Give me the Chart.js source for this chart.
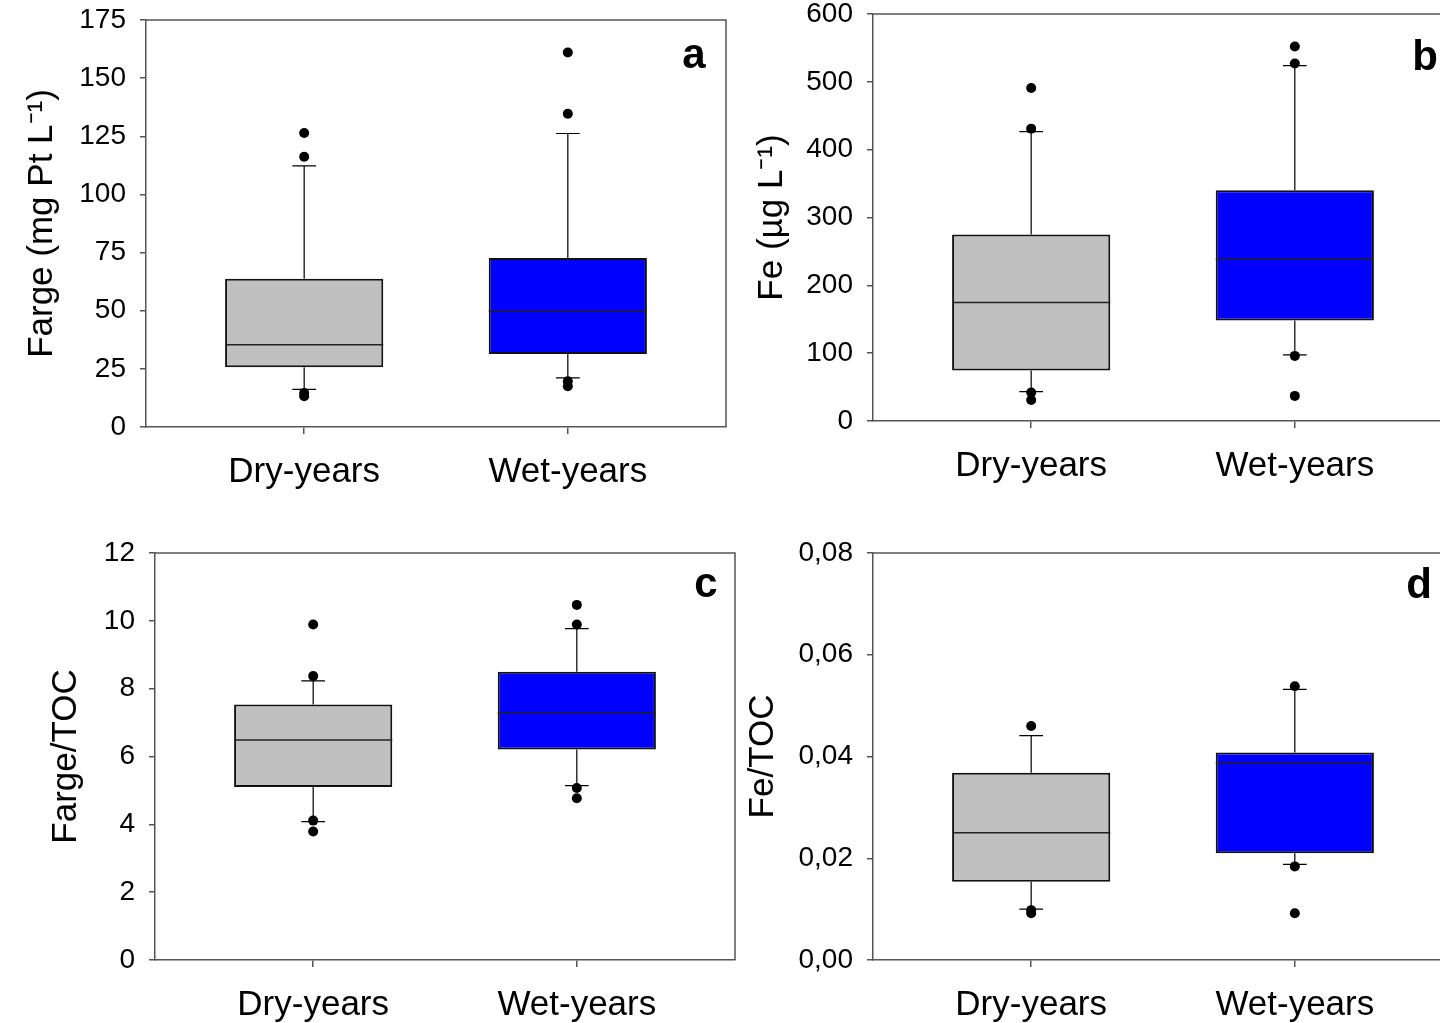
<!DOCTYPE html>
<html><head><meta charset="utf-8">
<script src="https://cdn.jsdelivr.net/npm/chart.js@4.4.0/dist/chart.umd.min.js"></script>
<style>
html,body{margin:0;padding:0;background:#fff;width:1440px;height:1023px;overflow:hidden;position:relative}
canvas{position:absolute}
</style></head><body>
<canvas id="pa" width="731" height="525" style="left:0px;top:-15px"></canvas>
<canvas id="pb" width="718" height="530" style="left:740px;top:-20px"></canvas>
<canvas id="pc" width="740" height="508" style="left:0px;top:515px"></canvas>
<canvas id="pd" width="718" height="508" style="left:740px;top:515px"></canvas>
<script>
const categories = ['Dry-years', 'Wet-years'];
const boxColors = ['#c0c0c0', '#0000ff'];

// panel a : Farge
const fargeTicks = [0, 25, 50, 75, 100, 125, 150, 175];
const fargeLow = [16.2, 21.1];
const fargeQ1 = [25.7, 31.4];
const fargeMedian = [35.4, 49.9];
const fargeQ3 = [63.7, 72.7];
const fargeHigh = [112.3, 126.2];
const fargeOut = [[126.4, 116.2, 14.6, 13.2], [161.0, 134.7, 19.7, 17.5]];

// panel b : Fe
const feTicks = [0, 100, 200, 300, 400, 500, 600];
const feLow = [43.3, 97.4];
const feQ1 = [74.3, 148];
const feMedian = [174.6, 238.6];
const feQ3 = [275, 340];
const feHigh = [426.5, 524];
const feOut = [[491, 431, 42, 31], [552, 527, 96, 37]];

// panel c : Farge/TOC
const fargeTocTicks = [0, 2, 4, 6, 8, 10, 12];
const fargeTocLow = [4.08, 5.14];
const fargeTocQ1 = [5.10, 6.21];
const fargeTocMedian = [6.49, 7.28];
const fargeTocQ3 = [7.53, 8.50];
const fargeTocHigh = [8.23, 9.77];
const fargeTocOut = [[9.89, 8.37, 4.11, 3.79], [10.47, 9.89, 5.07, 4.77]];

// panel d : Fe/TOC
const feTocTicks = [0, 0.02, 0.04, 0.06, 0.08];
const feTocLow = [0.0100, 0.0188];
const feTocQ1 = [0.0154, 0.0210];
const feTocMedian = [0.0250, 0.0387];
const feTocQ3 = [0.0368, 0.0408];
const feTocHigh = [0.0441, 0.0532];
const feTocOut = [[0.0460, 0.0098, 0.0092], [0.0538, 0.0184, 0.0092]];

const FONT = "'Liberation Sans', Arial, sans-serif";
const AXIS_COLOR = '#555';

function boxPlugin(st, look) {
  return {
    id: 'boxParts',
    beforeDatasetsDraw(chart) {
      const ctx = chart.ctx, x = chart.scales.x, y = chart.scales.y;
      ctx.save();
      ctx.strokeStyle = '#000';
      ctx.lineWidth = 1.2;
      st.low.forEach((lo, i) => {
        const cx = x.getPixelForValue(i + 1);
        const l = x.getPixelForValue(i + 1 - look.cap);
        const r = x.getPixelForValue(i + 1 + look.cap);
        const yHigh = y.getPixelForValue(st.high[i]);
        const yLow = y.getPixelForValue(lo);
        ctx.beginPath();
        ctx.moveTo(cx, y.getPixelForValue(st.q3[i])); ctx.lineTo(cx, yHigh);
        ctx.moveTo(cx, y.getPixelForValue(st.q1[i])); ctx.lineTo(cx, yLow);
        ctx.moveTo(l, yHigh); ctx.lineTo(r, yHigh);
        ctx.moveTo(l, yLow); ctx.lineTo(r, yLow);
        ctx.stroke();
      });
      ctx.restore();
    },
    afterDatasetsDraw(chart) {
      const ctx = chart.ctx, x = chart.scales.x, y = chart.scales.y;
      ctx.save();
      ctx.strokeStyle = '#222';
      ctx.lineWidth = 1.5;
      st.median.forEach((m, i) => {
        const l = x.getPixelForValue(i + 1 - look.half);
        const r = x.getPixelForValue(i + 1 + look.half);
        const py = y.getPixelForValue(m);
        ctx.beginPath(); ctx.moveTo(l, py); ctx.lineTo(r, py); ctx.stroke();
      });
      ctx.restore();
    },
    afterDraw(chart) {
      const ctx = chart.ctx, a = chart.chartArea;
      ctx.save();
      ctx.strokeStyle = AXIS_COLOR;
      ctx.lineWidth = 1.5;
      ctx.beginPath();
      ctx.moveTo(a.left, a.top); ctx.lineTo(a.right, a.top); ctx.lineTo(a.right, a.bottom);
      ctx.stroke();
      ctx.fillStyle = '#000';
      ctx.font = 'bold 42px ' + FONT;
      ctx.textAlign = 'center';
      ctx.textBaseline = 'alphabetic';
      ctx.fillText(look.letter, a.right - look.ldx, a.top + look.ldy);
      ctx.restore();
    }
  };
}

function makePanel(id, st, look) {
  const datasets = [
    {
      type: 'scatter',
      data: st.out.flatMap((arr, i) => arr.map(v => ({x: i + 1, y: v}))),
      pointRadius: 5,
      pointBackgroundColor: '#000',
      pointBorderColor: '#000',
      pointBorderWidth: 0,
      order: 0
    },
    {
      type: 'bar',
      data: categories.map((c, i) => ({x: i + 1, y: [st.q1[i], st.q3[i]]})),
      backgroundColor: boxColors,
      borderColor: '#111',
      borderWidth: 2,
      borderSkipped: false,
      barPercentage: 0.6,
      categoryPercentage: 1,
      order: 1
    }
  ];
  new Chart(document.getElementById(id), {
    type: 'bar',
    data: {datasets},
    options: {
      responsive: false,
      animation: false,
      devicePixelRatio: 1,
      layout: {padding: {top: look.padTop, right: 1, left: 0, bottom: 0}},
      plugins: {legend: {display: false}, tooltip: {enabled: false}},
      scales: {
        x: {
          type: 'linear', min: 0.4, max: 2.6, offset: false,
          afterBuildTicks: ax => { ax.ticks = categories.map((c, i) => ({value: i + 1})); },
          afterFit: ax => { ax.height = look.xH; },
          grid: {display: true, drawOnChartArea: false, drawTicks: true, tickLength: 7, color: AXIS_COLOR, lineWidth: 1.5, offset: false},
          border: {display: true, color: AXIS_COLOR, width: 1.5},
          ticks: {
            color: '#000', font: {family: FONT, size: 35}, padding: 17, maxRotation: 0, autoSkip: false,
            callback: v => categories[Math.round(v) - 1] || ''
          }
        },
        y: {
          type: 'linear', min: st.ticks[0], max: st.ticks[st.ticks.length - 1],
          afterBuildTicks: ax => { ax.ticks = st.ticks.map(v => ({value: v})); },
          afterFit: ax => { ax.width = look.yW; },
          grid: {display: true, drawOnChartArea: false, drawTicks: true, tickLength: 6, color: AXIS_COLOR, lineWidth: 1.5},
          border: {display: true, color: AXIS_COLOR, width: 1.5},
          ticks: {
            color: '#000', font: {family: FONT, size: 28}, padding: 14,
            callback: v => look.comma ? v.toFixed(2).replace('.', ',') : String(v)
          },
          title: {
            display: true, text: look.title, color: '#000',
            font: {family: FONT, size: 35}, padding: {top: look.titlePad, bottom: 0}
          }
        }
      }
    },
    plugins: [boxPlugin(st, look)]
  });
}

makePanel('pa',
  {ticks: fargeTicks, low: fargeLow, q1: fargeQ1, median: fargeMedian, q3: fargeQ3, high: fargeHigh, out: fargeOut},
  {title: 'Farge (mg Pt L\u207B\u00B9)', letter: 'a', padTop: 35, yW: 146, xH: 83, titlePad: 21, cap: 0.045, half: 0.3, ldx: 32, ldy: 48, comma: false});
makePanel('pb',
  {ticks: feTicks, low: feLow, q1: feQ1, median: feMedian, q3: feQ3, high: feHigh, out: feOut},
  {title: 'Fe (\u00B5g L\u207B\u00B9)', letter: 'b', padTop: 34, yW: 133, xH: 89, titlePad: 11, cap: 0.045, half: 0.3, ldx: 28, ldy: 56, comma: false});
makePanel('pc',
  {ticks: fargeTocTicks, low: fargeTocLow, q1: fargeTocQ1, median: fargeTocMedian, q3: fargeTocQ3, high: fargeTocHigh, out: fargeTocOut},
  {title: 'Farge/TOC', letter: 'c', padTop: 38, yW: 155, xH: 63, titlePad: 45, cap: 0.045, half: 0.3, ldx: 29, ldy: 44, comma: false});
makePanel('pd',
  {ticks: feTocTicks, low: feTocLow, q1: feTocQ1, median: feTocMedian, q3: feTocQ3, high: feTocHigh, out: feTocOut},
  {title: 'Fe/TOC', letter: 'd', padTop: 38, yW: 133, xH: 63, titlePad: 2, cap: 0.045, half: 0.3, ldx: 34, ldy: 45, comma: true});
</script>
</body></html>
